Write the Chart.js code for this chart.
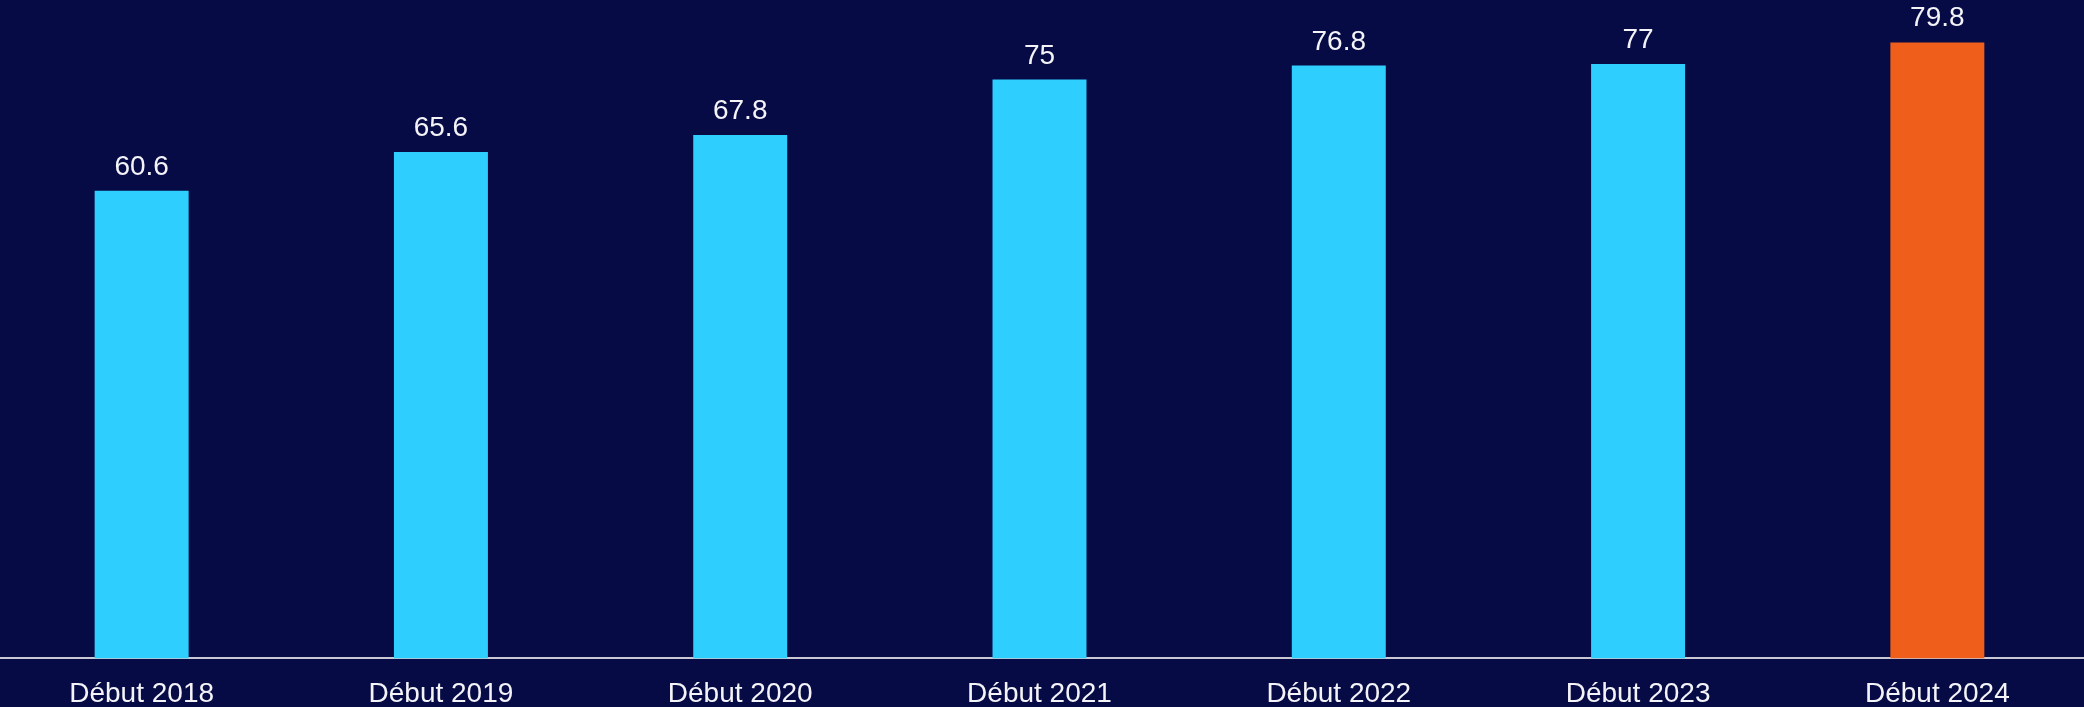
<!DOCTYPE html>
<html>
<head>
<meta charset="utf-8">
<script src="https://cdn.jsdelivr.net/npm/chart.js@4/dist/chart.umd.min.js"></script>
<style>
  html, body { margin:0; padding:0; background:#060a45; overflow:hidden; width:2084px; height:707px; }
  #wrap { position:absolute; left:-8px; top:0; width:2095px; height:707px; }
</style>
</head>
<body>
<div id="wrap"><canvas id="c"></canvas></div>
<script>
const categories = ["Début 2018", "Début 2019", "Début 2020", "Début 2021", "Début 2022", "Début 2023", "Début 2024"];
const values = [60.6, 65.6, 67.8, 75, 76.8, 77, 79.8];
const barColors = ["#2ecfff", "#2ecfff", "#2ecfff", "#2ecfff", "#2ecfff", "#2ecfff", "#f05e1b"];

const valueLabels = {
  id: 'valueLabels',
  afterDatasetsDraw(chart) {
    const ctx = chart.ctx;
    const meta = chart.getDatasetMeta(0);
    ctx.save();
    ctx.font = '28px "Liberation Sans", Arial, sans-serif';
    ctx.fillStyle = '#f4f4f8';
    ctx.textAlign = 'center';
    ctx.textBaseline = 'alphabetic';
    meta.data.forEach((bar, i) => {
      ctx.fillText(String(values[i]), bar.x, bar.y - 16);
    });
    ctx.restore();
  }
};

new Chart(document.getElementById('c'), {
  type: 'bar',
  data: {
    labels: categories,
    datasets: [{
      data: values,
      backgroundColor: barColors,
      borderWidth: 0,
      barPercentage: 1,
      categoryPercentage: 0.314
    }]
  },
  options: {
    responsive: true,
    maintainAspectRatio: false,
    animation: false,
    layout: { padding: { top: 0, left: 0, right: 0, bottom: -23 } },
    plugins: { legend: { display: false }, tooltip: { enabled: false } },
    scales: {
      x: {
        grid: { display: false, drawTicks: false },
        border: { display: true, color: '#c9c9d4', width: 2 },
        ticks: {
          color: '#f4f4f8',
          padding: 19,
          font: { family: '"Liberation Sans", Arial, sans-serif', size: 28, lineHeight: 1.2 }
        }
      },
      y: {
        display: false,
        min: 0,
        max: 85.3
      }
    }
  },
  plugins: [valueLabels]
});
</script>
</body>
</html>
